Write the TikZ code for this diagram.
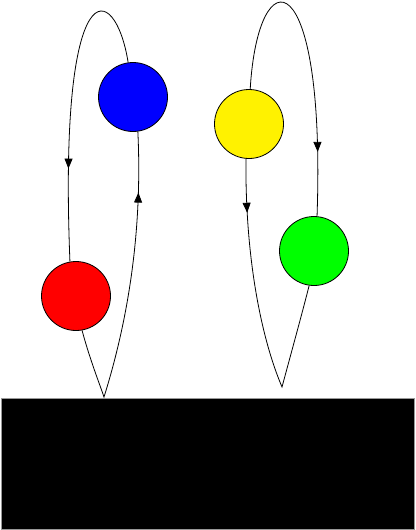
\documentclass[tikz,border=0pt]{standalone}
\usepackage{tikz}
\usetikzlibrary{arrows.meta,decorations.markings}

\begin{document}
\begin{tikzpicture}[
      x=1pt, y=-1pt,
      ball/.style={circle,draw,line width=0.8pt,minimum size=69pt,inner sep=0pt},
      flight/.style={line width=0.8pt},
      midarrow/.style={postaction={decorate,decoration={markings,
          mark=at position #1 with {\arrow{Triangle[length=10pt,width=8pt]}}}}},
      hands/.style={fill=black,draw=gray!80,line width=0.8pt}
  ]
  \useasboundingbox (0,0) rectangle (415,530);

  % ===================== hands =====================
  \draw[hands] (1,398) rectangle (414,529);
  \coordinate (dipL) at (104,397);
  \coordinate (dipR) at (282,387);

  % ===================== balls =====================
  \node[ball,fill=blue]   (blue)   at (133,97)  {};
  \node[ball,fill=red]    (red)    at (76,296)  {};
  \node[ball,fill=yellow] (yellow) at (249,124) {};
  \node[ball,fill=green]  (green)  at (314,251) {};

  % ===================== left pair =====================
  \draw[flight,midarrow=0.71]
      (blue.98) .. controls (115,-20) and (58,-35) .. (red.100);
  \draw[flight,midarrow=0.82]
      (red.-80) .. controls (90,360) and (100,385) .. (dipL)
      .. controls (125,330) and (143,240) .. (blue.-82);

  % ===================== right pair =====================
  \draw[flight,midarrow=0.80]
      (yellow.88) .. controls (258,-45) and (326,-40) .. (green.85);
  \draw[flight,midarrow=0.16]
      (yellow.-95) .. controls (245,260) and (262,340) .. (dipR)
      .. controls (292,350) and (303,310) .. (green.-98);

\end{tikzpicture}
\end{document}
